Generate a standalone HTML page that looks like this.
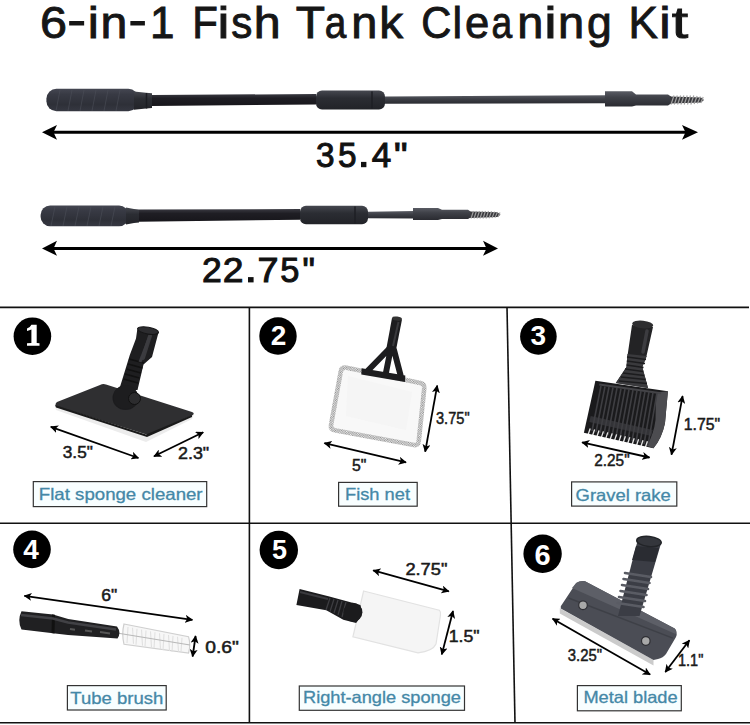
<!DOCTYPE html>
<html><head><meta charset="utf-8">
<style>
html,body{margin:0;padding:0;background:#fff;width:750px;height:725px;overflow:hidden}
svg{display:block}
text{font-family:"Liberation Sans",sans-serif}
.dim{font-size:16px;fill:#1a1a1a;stroke:#1a1a1a;stroke-width:0.5px}
.lbl{font-size:16.5px;fill:#4488a7;stroke:#4488a7;stroke-width:0.3px}
.num{fill:#fff;font-weight:bold;font-size:27px}
</style></head><body>
<svg width="750" height="725" viewBox="0 0 750 725">
<defs>
<pattern id="mesh" width="2.2" height="2.2" patternUnits="userSpaceOnUse" patternTransform="rotate(10)">
<rect width="2.2" height="2.2" fill="#f2f2f2"/><rect width="1.1" height="1.1" fill="#8e8e8e"/><rect x="1.1" y="1.1" width="1.1" height="1.1" fill="#8e8e8e"/>
</pattern>
<linearGradient id="gH" x1="0" y1="0" x2="0" y2="1">
<stop offset="0" stop-color="#454752"/><stop offset="0.25" stop-color="#383a44"/><stop offset="0.7" stop-color="#2e3038"/><stop offset="1" stop-color="#363842"/>
</linearGradient>
<linearGradient id="gR" x1="0" y1="0" x2="0" y2="1">
<stop offset="0" stop-color="#3a3a42"/><stop offset="0.35" stop-color="#1f1e24"/><stop offset="1" stop-color="#17161b"/>
</linearGradient>
<linearGradient id="gR2" x1="0" y1="0" x2="0" y2="1">
<stop offset="0" stop-color="#5a5c64"/><stop offset="0.4" stop-color="#3f4148"/><stop offset="1" stop-color="#2a2b31"/>
</linearGradient>
<linearGradient id="gC" x1="0" y1="0" x2="0" y2="1">
<stop offset="0" stop-color="#45474f"/><stop offset="0.4" stop-color="#2b2d33"/><stop offset="1" stop-color="#222328"/>
</linearGradient>
<marker id="ah" viewBox="0 0 10 10" refX="9" refY="5" markerWidth="10" markerHeight="10" orient="auto-start-reverse" markerUnits="userSpaceOnUse">
<path d="M0,0 L10,5 L0,10 L2.5,5 Z" fill="#000"/>
</marker>
<marker id="as" viewBox="0 0 10 10" refX="9" refY="5" markerWidth="8" markerHeight="8" orient="auto-start-reverse" markerUnits="userSpaceOnUse">
<path d="M0,0 L10,5 L0,10 L2.5,5 Z" fill="#000"/>
</marker>
</defs>
<rect width="750" height="725" fill="#fff"/>

<!-- Title -->
<g font-size="44" fill="#161616" stroke="#161616" stroke-width="0.9">
<text transform="translate(53.65 37.5) scale(1.103 1)" x="-12.39" >6</text>
<text transform="translate(76.65 34.8) scale(1.285 1)" x="-7.33" >-</text>
<text transform="translate(93.35 37.5) scale(1.138 1)" x="-4.88" >i</text>
<text transform="translate(114.00 37.5) scale(1.097 1)" x="-12.27" >n</text>
<text transform="translate(137.65 34.8) scale(1.247 1)" x="-7.33" >-</text>
<text transform="translate(162.90 37.5) scale(1.000 1)" x="-12.84" >1</text>
<text transform="translate(206.00 37.5) scale(0.953 1)" x="-14.36" >F</text>
<text transform="translate(223.50 37.5) scale(1.215 1)" x="-4.88" >i</text>
<text transform="translate(241.65 37.5) scale(0.959 1)" x="-10.82" >s</text>
<text transform="translate(267.35 37.5) scale(1.099 1)" x="-12.33" >h</text>
<text transform="translate(310.40 37.5) scale(1.089 1)" x="-13.43" >T</text>
<text transform="translate(336.40 37.5) scale(0.880 1)" x="-13.17" >a</text>
<text transform="translate(364.40 37.5) scale(1.065 1)" x="-12.27" >n</text>
<text transform="translate(392.80 37.5) scale(1.084 1)" x="-12.51" >k</text>
<text transform="translate(436.65 37.5) scale(0.947 1)" x="-16.17" >C</text>
<text transform="translate(457.35 37.5) scale(0.983 1)" x="-4.90" >l</text>
<text transform="translate(477.00 37.5) scale(0.993 1)" x="-12.19" >e</text>
<text transform="translate(502.50 37.5) scale(0.845 1)" x="-13.17" >a</text>
<text transform="translate(530.40 37.5) scale(1.065 1)" x="-12.27" >n</text>
<text transform="translate(550.40 37.5) scale(1.267 1)" x="-4.88" >i</text>
<text transform="translate(571.25 37.5) scale(1.070 1)" x="-12.27" >n</text>
<text transform="translate(598.75 37.5) scale(1.011 1)" x="-11.74" >g</text>
<text transform="translate(644.80 37.5) scale(1.002 1)" x="-16.23" >K</text>
<text transform="translate(664.80 37.5) scale(1.164 1)" x="-4.88" >i</text>
<text transform="translate(680.30 37.5) scale(1.344 1)" x="-6.28" >t</text>
<rect x="154" y="34.6" width="17" height="3.3" stroke="none"/>
</g>

<!-- ROD 1 -->
<g id="rod1">
  <path d="M152,95 L316,94 L316,104.5 L152,106 Z" fill="url(#gR)"/>
  <path d="M385,96.5 L606,95.3 L606,103.3 L385,103.7 Z" fill="url(#gR2)"/>
  <rect x="46.4" y="88.7" width="92" height="22.6" rx="10" fill="url(#gH)"/>
  <g stroke="#4c4f59" stroke-width="1" opacity="0.6"><path d="M60,90 l-4,21 M72,90 l-4,21 M84,90 l-4,21 M96,90 l-4,21 M108,90 l-4,21 M120,90 l-4,21"/></g>
  <path d="M134,91.5 L146,92.8 L152,93.2 L152,108 L146,108.5 L134,109.8 Z" fill="url(#gC)"/>
  <path d="M146.5,93 v15.5" stroke="#1b1c21" stroke-width="1.5"/>
  <rect x="316" y="90.6" width="69" height="18.8" rx="6" fill="url(#gC)"/>
  <path d="M372,91.5 L372,108.5" stroke="#1e1f24" stroke-width="1.5"/>
  <path d="M605,91.3 L632,91.3 L636,94.4 L668,94.4 L671,96.5 L671,103.5 L668,105.6 L636,105.6 L632,106.5 L605,106.5 Z" fill="url(#gR2)"/>
  <path d="M670,96.5 L701,97.5 L704,100 L701,102.5 L670,103.5 Z" fill="#3a3a3e"/>
  <g stroke="#a0a0a0" stroke-width="1.2">
    <path d="M671,104.5 L674,95.5 M674.3,104.5 L677.3,95.5 M677.6,104.5 L680.6,95.5 M680.9,104.5 L683.9,95.5 M684.2,104.5 L687.2,95.5 M687.5,104.5 L690.5,95.5 M690.8,104.5 L693.8,95.5 M694.1,104 L697.1,96 M697.4,103.5 L700.4,96.5 M700.7,103 L703.2,97"/>
  </g>
</g>
<!-- Arrow 1 -->
<line x1="50" y1="132.3" x2="690" y2="132.3" stroke="#000" stroke-width="3"/>
<path d="M42,132.3 L57,125 L53.5,132.3 L57,139.8 Z" fill="#000"/>
<path d="M698,132.3 L682,125 L685.5,132.3 L682,139.8 Z" fill="#000"/>
<g font-size="35" fill="#111" stroke="#111" stroke-width="1">
<text transform="translate(325.20 167.2) scale(0.952 1)" x="-9.63" >3</text>
<text transform="translate(347.20 167.2) scale(0.952 1)" x="-9.70" >5</text>
<text transform="translate(381.45 167.2) scale(1.004 1)" x="-9.62" >4</text>
<text transform="translate(400.65 167.2) scale(1.090 1)" x="-6.21" >&quot;</text>
<rect x="361" y="161.9" width="5.4" height="5.3" stroke="none"/>
</g>

<!-- ROD 2 -->
<g id="rod2">
  <path d="M139,209.5 L300,209 L300,219.7 L139,221.8 Z" fill="url(#gR)"/>
  <path d="M368,211.7 L414,211 L414,218.5 L368,218.2 Z" fill="url(#gR2)"/>
  <rect x="40.6" y="205.4" width="88" height="20.8" rx="9.5" fill="url(#gH)"/>
  <g stroke="#4c4f59" stroke-width="1" opacity="0.6"><path d="M55,206.5 l-4,19.5 M67,206.5 l-4,19.5 M79,206.5 l-4,19.5 M91,206.5 l-4,19.5 M103,206.5 l-4,19.5 M115,206.5 l-4,19.5"/></g>
  <path d="M126,207.5 L134,209 L139,209.4 L139,222.6 L134,223 L126,224.5 Z" fill="url(#gC)"/>
  <rect x="300" y="205.7" width="68" height="18.6" rx="6" fill="url(#gC)"/>
  <path d="M355,206.5 L355,223.5" stroke="#1e1f24" stroke-width="1.5"/>
  <path d="M413,207.9 L438,207.9 L442,209.7 L468,209.7 L470.5,211.5 L470.5,217.5 L468,219 L442,219 L438,220 L413,220 Z" fill="url(#gR2)"/>
  <path d="M470,211.5 L497.5,212.3 L500.5,214.7 L497.5,217.1 L470,218 Z" fill="#3a3a3e"/>
  <g stroke="#a0a0a0" stroke-width="1.1">
    <path d="M471,218.5 L473.5,211 M474,218.5 L476.5,211 M477,218.5 L479.5,211 M480,218.5 L482.5,211 M483,218.5 L485.5,211 M486,218.5 L488.5,211 M489,218.2 L491.5,211.3 M492,218 L494.5,211.6 M495,217.6 L497.5,212 M498,217 L500,212.5"/>
  </g>
</g>
<!-- Arrow 2 -->
<line x1="50" y1="248.4" x2="490" y2="248.4" stroke="#000" stroke-width="3"/>
<path d="M42,248.4 L57,240.8 L53.5,248.4 L57,255.8 Z" fill="#000"/>
<path d="M498,248.4 L483,240.8 L486.5,248.4 L483,255.8 Z" fill="#000"/>
<g font-size="35" fill="#111" stroke="#111" stroke-width="1">
<text transform="translate(211.80 282.4) scale(1.016 1)" x="-9.73" >2</text>
<text transform="translate(233.00 282.4) scale(1.066 1)" x="-9.73" >2</text>
<text transform="translate(268.00 282.4) scale(1.081 1)" x="-9.75" >7</text>
<text transform="translate(289.65 282.4) scale(0.982 1)" x="-9.70" >5</text>
<text transform="translate(308.70 282.4) scale(0.995 1)" x="-6.21" >&quot;</text>
<rect x="248" y="277.1" width="5.6" height="5.3" stroke="none"/>
</g>

<!-- GRID -->
<g stroke="#111" stroke-width="1.6" fill="none">
  <line x1="0" y1="307.4" x2="749" y2="307.4"/>
  <line x1="0" y1="523.2" x2="750" y2="523.2"/>
  <line x1="0" y1="722.8" x2="750" y2="722.8"/>
  <line x1="249.4" y1="307" x2="249.4" y2="723"/>
  <line x1="507" y1="307" x2="515" y2="723"/>
</g>

<!-- NUMBER CIRCLES -->
<circle cx="32.4" cy="336.2" r="18.8" fill="#000"/>
<circle cx="278" cy="336" r="18.7" fill="#000"/>
<circle cx="538.4" cy="336.4" r="18.3" fill="#000"/>
<circle cx="32" cy="549.4" r="18.8" fill="#000"/>
<circle cx="278.8" cy="550" r="19.2" fill="#000"/>
<circle cx="542.6" cy="553.8" r="19.2" fill="#000"/>
<path d="M31.4,324.8 L36.7,324.8 L36.7,342.9 L39.5,343.2 L39.5,345.7 L27,345.7 L27,343.2 L31.4,342.9 L31.4,329.6 Q29.5,330.6 27,331 L27,328.6 Q30.3,327.4 31.4,324.8 Z" fill="#fff"/>
<text x="278.6" y="344.9" class="num" text-anchor="middle" style="font-size:28px">2</text>
<text x="538.4" y="345.2" class="num" text-anchor="middle" style="font-size:28px">3</text>
<text x="31" y="559" class="num" text-anchor="middle" style="font-size:28px">4</text>
<text x="279.6" y="558.8" class="num" text-anchor="middle">5</text>
<text x="542.6" y="564.8" class="num" text-anchor="middle" style="font-size:29px">6</text>

<!-- LABEL BOXES -->
<g fill="#f8feff" stroke="#333" stroke-width="1.2">
  <rect x="33.3" y="481.6" width="173.4" height="25"/>
  <rect x="338.6" y="482.4" width="78.6" height="23.8"/>
  <rect x="571.6" y="481.9" width="105.2" height="24.2"/>
  <rect x="67.4" y="685.6" width="98.8" height="24.4"/>
  <rect x="299.3" y="686" width="165.2" height="24.3"/>
  <rect x="577.4" y="685.6" width="103.9" height="25.2"/>
</g>
<text x="38.8" y="499.8" class="lbl" textLength="163.8" lengthAdjust="spacingAndGlyphs">Flat sponge cleaner</text>
<text x="345" y="500.4" class="lbl" textLength="65" lengthAdjust="spacingAndGlyphs">Fish net</text>
<text x="575.6" y="500.6" class="lbl" textLength="95.2" lengthAdjust="spacingAndGlyphs">Gravel rake</text>
<text x="70.3" y="704.2" class="lbl" textLength="93" lengthAdjust="spacingAndGlyphs">Tube brush</text>
<text x="303" y="702.6" class="lbl" textLength="158" lengthAdjust="spacingAndGlyphs">Right-angle sponge</text>
<text x="583.4" y="703" class="lbl" textLength="94.2" lengthAdjust="spacingAndGlyphs">Metal blade</text>

<!-- DIMENSION TEXTS -->
<text x="62.8" y="458" class="dim" textLength="30" lengthAdjust="spacingAndGlyphs">3.5"</text>
<text x="178" y="459.2" class="dim" textLength="31.2" lengthAdjust="spacingAndGlyphs">2.3"</text>
<text x="352" y="470.8" class="dim" textLength="14.4" lengthAdjust="spacingAndGlyphs">5"</text>
<text x="436" y="424" class="dim" textLength="33.6" lengthAdjust="spacingAndGlyphs">3.75"</text>
<text x="594.3" y="465.6" class="dim" textLength="35.3" lengthAdjust="spacingAndGlyphs">2.25"</text>
<text x="683.7" y="430.3" class="dim" textLength="36.4" lengthAdjust="spacingAndGlyphs">1.75"</text>
<text x="101.2" y="600.6" class="dim" textLength="16" lengthAdjust="spacingAndGlyphs">6"</text>
<text x="205.2" y="653.4" class="dim" textLength="33.6" lengthAdjust="spacingAndGlyphs">0.6"</text>
<text x="405.4" y="574.6" class="dim" textLength="42" lengthAdjust="spacingAndGlyphs">2.75"</text>
<text x="448.8" y="641.8" class="dim" textLength="30.8" lengthAdjust="spacingAndGlyphs">1.5"</text>
<text x="567.8" y="660.5" class="dim" textLength="34.2" lengthAdjust="spacingAndGlyphs">3.25"</text>
<text x="678" y="665.6" class="dim" textLength="25.3" lengthAdjust="spacingAndGlyphs">1.1"</text>

<!-- DIMENSION ARROWS -->
<g stroke="#000" stroke-width="1.8" marker-start="url(#as)" marker-end="url(#as)">
  <line x1="50.8" y1="426.8" x2="138.4" y2="458"/>
  <line x1="154" y1="456.3" x2="203.2" y2="432.3"/>
  <line x1="324.4" y1="443.2" x2="406" y2="462.4"/>
  <line x1="437.2" y1="385.6" x2="425.2" y2="451.6"/>
  <line x1="582.1" y1="442.4" x2="649.5" y2="457.5"/>
  <line x1="682.6" y1="396.1" x2="671.5" y2="454.6"/>
  <line x1="24.4" y1="595.8" x2="192.4" y2="619.8"/>
  <line x1="195.6" y1="636" x2="192.6" y2="656.5"/>
  <line x1="373.2" y1="570.4" x2="448.8" y2="591.4"/>
  <line x1="453" y1="611" x2="441.8" y2="654.4"/>
  <line x1="552.6" y1="618.7" x2="650.1" y2="674.5"/>
  <line x1="689.4" y1="640.3" x2="665.3" y2="672"/>
</g>

<!-- PRODUCT 1: flat sponge cleaner -->
<g id="p1">
  <path d="M56,410 L146,442 L192,419 L194,414 L148,434 L54.5,404.5 Z" fill="#ececec"/>
  <path d="M57,402 Q54,404.5 57,406.5 L145,434 Q148,435 151,433.5 L192,415.5 Q195.5,413.5 192,412 L106,384.5 Q103,383.5 100,385 Z" fill="#2f2f31"/>
  <path d="M55,405 L146,434.5 L192,415 L192,417 L147,437 L56,407.5 Z" fill="#1a1a1a"/>
  <path d="M137.2,330 L158.5,332.5 L152,357 L143.5,364.5 L137.5,390 L119,390 L121.5,382 L129.8,355 L134.7,342 L136,338.6 Z" fill="#1e1e20"/>
  <path d="M150,336 L143,358" stroke="#3b3b3e" stroke-width="4" stroke-linecap="round"/>
  <g stroke="#111" stroke-width="1.6">
    <path d="M129,359 L144,363 M128,364 L142.5,368 M126.5,369 L141,373 M125,374 L139.5,378 M123.5,379 L138,383"/>
  </g>
  <ellipse cx="148" cy="330.6" rx="10.7" ry="3.4" transform="rotate(10 148 330.6)" fill="#2c2c2f" stroke="#151516" stroke-width="1"/>
  <ellipse cx="125.5" cy="398" rx="13" ry="12" fill="#1c1c1e"/>
  <circle cx="133.8" cy="397.8" r="5" fill="#2a2a2c" stroke="#121212" stroke-width="1.2"/>
</g>
  <path d="M150,336 L140,362" stroke="#3c3c40" stroke-width="3"/>
  <circle cx="125.5" cy="397" r="12" fill="#1d1d1f"/>
  <circle cx="134.5" cy="398.5" r="6" fill="#2c2c2e" stroke="#111" stroke-width="1"/>
</g>

<!-- PRODUCT 2: fish net -->
<g id="p2">
  <path d="M345.5,367.6 Q341.3,367.4 340.8,371.5 L331,425 Q330.4,429.4 334.6,430.2 L414,445 Q418.3,445.6 418.7,441.5 L424.3,388 Q424.6,383.8 420.4,383 Z" fill="#f8f8f8" stroke="url(#mesh)" stroke-width="4.6"/>
  <path d="M348,376 L346,416 L406,430 L412,392 Z" fill="#f0f0f0" opacity="0.4"/>
  <path d="M368,370.5 L388.5,349.5 M400.5,375 L394,350 M386,372.5 L390.5,350" stroke="#1d1d1f" stroke-width="6" stroke-linecap="round"/>
  <path d="M361.6,368.3 L405.3,375.5 L405,382 L361.3,374.6 Z" fill="#1d1d1f"/>
  <path d="M392,318 L402,319.5 L395.8,351 L386.2,349.5 Z" fill="#1d1d1f"/>
  <ellipse cx="397" cy="318.6" rx="5" ry="2" transform="rotate(8 397 318.6)" fill="#333"/>
  <path d="M398.5,322 L393,346" stroke="#3a3a3d" stroke-width="2"/>
</g>

<!-- PRODUCT 3: gravel rake -->
<g id="p3">
  <path d="M632,325 L653,327 L646.4,356.6 L642.3,367 L648,388 L615.8,383 L626.5,367 L627.4,356.6 Z" fill="#232325"/>
  <path d="M627.4,354 L646.8,356 L642.3,367 L648,388 L615.8,383 L626.5,367 Z" fill="#3a3a3d"/>
  <g stroke="#1c1c1e" stroke-width="1.3">
    <path d="M627,357 L646,359.5 M626.8,361 L645,363.5 M626.6,365 L643.5,367.5 M625,369 L643,371.5 M623,373 L644,375.5 M621,377 L645.5,379.5 M619,381 L647,383.5"/>
  </g>
  <ellipse cx="642.7" cy="324.5" rx="10.6" ry="3.8" transform="rotate(6 642.7 324.5)" fill="#2e2e30"/>
  <path d="M647,331 L643,352" stroke="#3c3c40" stroke-width="3.5" stroke-linecap="round"/>
  <path d="M595.4,380.7 L667.9,391.3 L665,423 Q662,438 653.4,448.3 L583.9,432.8 Z" fill="#1a1a1c"/>
  <path d="M656,392.5 L667.9,391.3 L665,423 Q662,438 653.4,448.3 L647,446 Q654,433 655.5,420 Z" fill="#4c4c50"/>
  <path d="M599.3,384.5 L661.1,393.2" stroke="#444448" stroke-width="2"/>
  <path d="M590,419 L652,433" stroke="#333337" stroke-width="6"/>
  <g stroke="#3e3e42" stroke-width="1.6">
    <path d="M601,386 L592,431 M605,386.5 L596,432 M609,387 L600,433 M613,387.5 L604,434 M617,388 L608,435 M621,388.5 L612,436 M625,389 L616,437 M629,389.5 L620,438 M633,390 L624,439 M637,390.5 L628,440 M641,391 L632,441 M645,391.5 L636,442 M649,392 L640,443 M653,392.5 L644,444 M657,393 L648,445"/>
  </g>
  <g stroke="#fff" stroke-width="1.3" opacity="0.9"><path d="M588.0,435.0 L590.2,428.5"/><path d="M592.4,436.0 L594.6,429.5"/><path d="M596.8,437.0 L599.0,430.5"/><path d="M601.2,437.9 L603.4,431.4"/><path d="M605.6,438.9 L607.8,432.4"/><path d="M610.0,439.9 L612.2,433.4"/><path d="M614.4,440.9 L616.6,434.4"/><path d="M618.8,441.9 L621.0,435.4"/><path d="M623.2,442.8 L625.4,436.3"/><path d="M627.6,443.8 L629.8,437.3"/><path d="M632.0,444.8 L634.2,438.3"/><path d="M636.4,445.8 L638.6,439.3"/><path d="M640.8,446.8 L643.0,440.3"/><path d="M645.2,447.7 L647.4,441.2"/></g>
</g>

<!-- PRODUCT 4: tube brush -->
<g id="p4">
  <path d="M124,624 L188.5,636.7 Q191,645 188.5,653.2 L124,644.3 Q121.5,634 124,624 Z" fill="#f7f7f7" stroke="#cfcfcf" stroke-width="1.2"/>
  <g stroke="#e0e0e0" stroke-width="1.1">
    <path d="M128,627 l-1,16 M132.5,627.8 l1,16 M137,628.7 l-1,16 M141.5,629.6 l1,16 M146,630.5 l-1,16 M150.5,631.4 l1,16 M155,632.3 l-1,16 M159.5,633.2 l1,16 M164,634.1 l-1,16 M168.5,635 l1,16 M173,635.9 l-1,16 M177.5,636.8 l1,15 M182,637.7 l-1,14"/>
  </g>
  <path d="M117,633 L190,645" stroke="#b8b8b8" stroke-width="1.2"/>
  <path d="M21.5,611.2 L53,614.5 L68.2,619 L117,626.5 Q121.5,632.5 117.5,638.5 L68,635 L53,633.2 L21.5,629.6 Q17,620.4 21.5,611.2 Z" fill="#202022"/>
  <path d="M52,614.4 L55,614.8 L54.5,633.4 L51.5,633.1 Z" fill="#111"/>
  <path d="M21,615 L53,618.5 L68,622.5 L116,629.5" stroke="#414145" stroke-width="2.5" fill="none"/>
  <path d="M70,629 L75,629.8 M85,630.5 L92,631.5 M100,632 L110,633.4" stroke="#555" stroke-width="2"/>
</g>

<!-- PRODUCT 5: right-angle sponge -->
<g id="p5">
  <path d="M363.6,591 L439.3,610.2 Q441,612 440.5,615 L436,644 Q433,651 418,652.9 L352.9,636.9 Z" fill="#f5f5f5" stroke="#e2e2e2" stroke-width="1.2"/>
  <path d="M299.6,588.9 L328.4,596.3 L348.7,601.7 L360.4,604.9 Q364,614 356.1,623 L343.3,619.8 L326.3,610.2 L296.4,604.9 Z" fill="#1b1b1d"/>
  <g stroke="#3d3d41" stroke-width="1.3">
    <path d="M330,598 L326,610 M334,599 L330,611.5 M338,600 L334,613 M342,601 L338,615 M346,602 L342,617"/>
  </g>
  <circle cx="352.9" cy="612.3" r="9.5" fill="#1b1b1d"/>
  <path d="M300,592 L328,599" stroke="#3a3a3e" stroke-width="2"/>
</g>

<!-- PRODUCT 6: metal blade -->
<g id="p6">
  <path d="M559.8,608.2 L653.5,660 L653.5,665.5 L559.8,613.5 Z" fill="#cbcbcb"/>
  <path d="M560.8,606.3 L576.2,583.1 Q580,580.5 585,581.2 L674.7,628.5 Q678,632 676,637 L666,654 Q663,658 658,659 L653.5,660 L560.8,608.5 Z" fill="#4b4d55"/>
  <path d="M576.2,583.1 Q580,580.5 585,581.2 L674.7,628.5 Q677,631 675.5,634 L572,588 Z" fill="#5d5f67"/>
  <path d="M568.5,598 L672.8,638.1" stroke="#3e4047" stroke-width="1.5"/>
  <path d="M618,616 L637.5,541 L661,543.5 L639.5,616 Z" fill="#3b3d45"/>
  <path d="M632,560 L636,546 L659,548 L655,562 Z" fill="#2a2c32"/>
  <g stroke="#5a5c64" stroke-width="2.6" stroke-linecap="round">
    <path d="M625,573 L651,577 M623.5,579 L649.5,583 M622,585 L648,589 M620.5,591 L646.5,595 M619,597 L645,601 M617.5,603 L643.5,607"/>
  </g>
  <ellipse cx="649" cy="541.5" rx="12.3" ry="5" transform="rotate(6 649 541.5)" fill="#34363c" stroke="#222428" stroke-width="1.5"/>
  <circle cx="583" cy="605.3" r="4.3" fill="#a8a8a8" stroke="#2e2e33" stroke-width="1.2"/>
  <circle cx="645.8" cy="641" r="4.3" fill="#a8a8a8" stroke="#2e2e33" stroke-width="1.2"/>
</g>
</svg>
</body></html>
